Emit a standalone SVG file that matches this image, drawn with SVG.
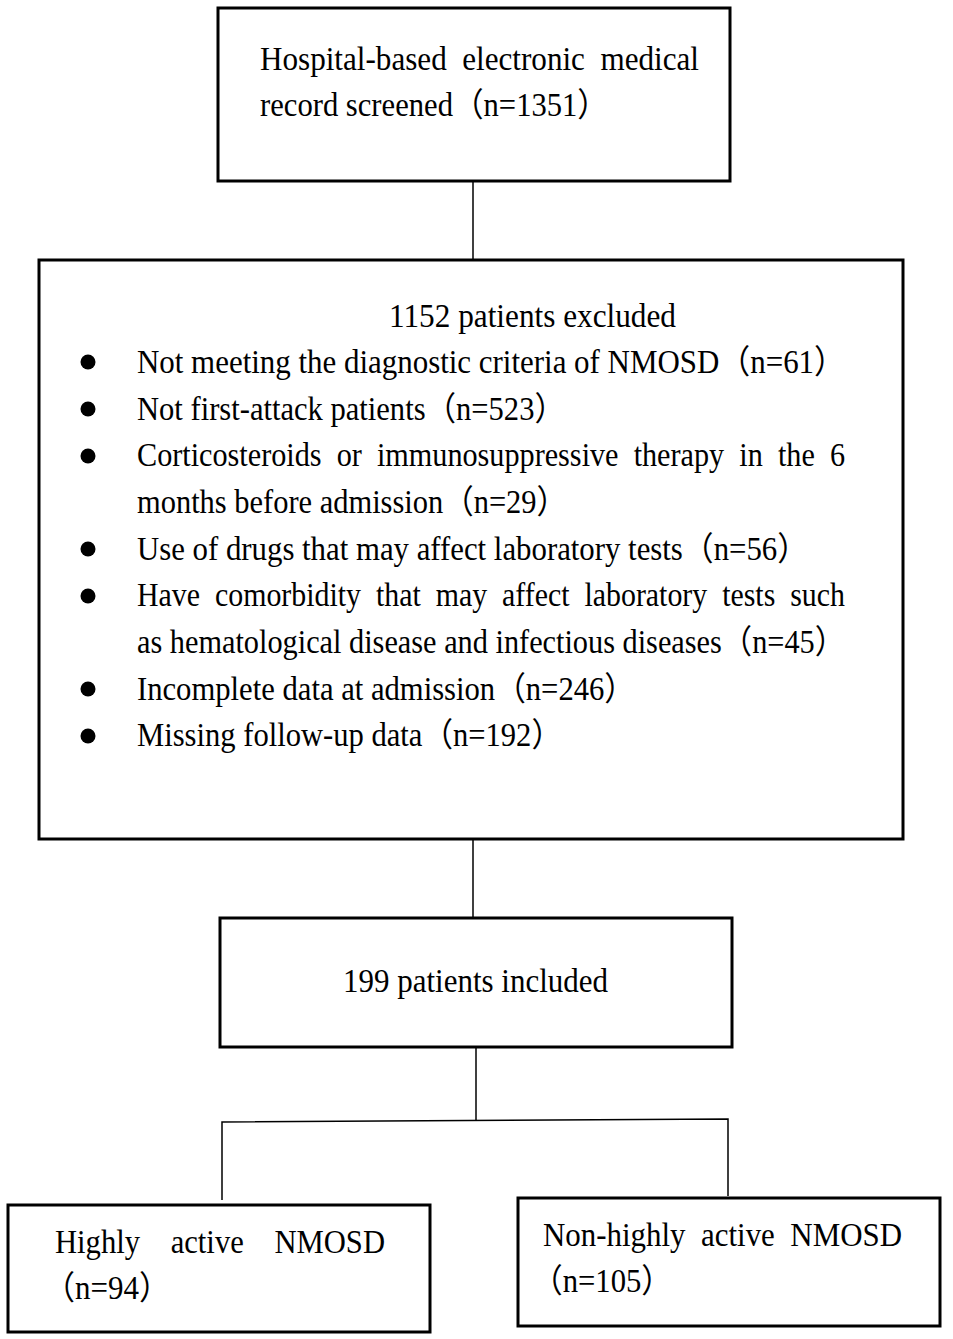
<svg xmlns="http://www.w3.org/2000/svg" width="953" height="1339" viewBox="0 0 953 1339">
<style>
.box{fill:#fff;stroke:#000;stroke-width:3}
.t{font-family:"Liberation Serif","Noto Sans CJK SC",serif;font-size:33px;fill:#000}
.con{stroke:#000;stroke-width:1.5;fill:none}
</style>
<rect width="953" height="1339" fill="#fff"/>
<g id="connectors">
<line class="con" x1="473" y1="181" x2="473" y2="259"/>
<line class="con" x1="473" y1="839" x2="473" y2="917"/>
<line class="con" x1="476" y1="1047" x2="476" y2="1121"/>
<polyline class="con" points="222,1200 222,1122 728,1119 728,1196"/>
</g>
<g id="screened">
<rect class="box" x="218" y="8" width="512" height="173"/>
<text class="t" xml:space="preserve" x="260" y="70" textLength="439" lengthAdjust="spacingAndGlyphs">Hospital-based  electronic  medical</text>
<text class="t" x="260" y="116" textLength="348" lengthAdjust="spacingAndGlyphs">record screened（n=1351）</text>
</g>
<g id="excluded">
<rect class="box" x="39" y="260" width="864" height="579"/>
<text class="t" x="389" y="327" textLength="287" lengthAdjust="spacingAndGlyphs">1152 patients excluded</text>
<circle cx="88" cy="362" r="7.5"/>
<circle cx="88" cy="409" r="7.5"/>
<circle cx="88" cy="456" r="7.5"/>
<circle cx="88" cy="549" r="7.5"/>
<circle cx="88" cy="596" r="7.5"/>
<circle cx="88" cy="689" r="7.5"/>
<circle cx="88" cy="736" r="7.5"/>
<text class="t" x="137" y="373" textLength="708" lengthAdjust="spacingAndGlyphs">Not meeting the diagnostic criteria of NMOSD（n=61）</text>
<text class="t" x="137" y="420" textLength="428" lengthAdjust="spacingAndGlyphs">Not first-attack patients（n=523）</text>
<text class="t" xml:space="preserve" x="137" y="466" textLength="708" lengthAdjust="spacingAndGlyphs">Corticosteroids  or  immunosuppressive  therapy  in  the  6</text>
<text class="t" x="137" y="513" textLength="430" lengthAdjust="spacingAndGlyphs">months before admission（n=29）</text>
<text class="t" x="137" y="560" textLength="671" lengthAdjust="spacingAndGlyphs">Use of drugs that may affect laboratory tests（n=56）</text>
<text class="t" xml:space="preserve" x="137" y="606" textLength="708" lengthAdjust="spacingAndGlyphs">Have  comorbidity  that  may  affect  laboratory  tests  such</text>
<text class="t" x="137" y="653" textLength="708" lengthAdjust="spacingAndGlyphs">as hematological disease and infectious diseases（n=45）</text>
<text class="t" x="137" y="700" textLength="498" lengthAdjust="spacingAndGlyphs">Incomplete data at admission（n=246）</text>
<text class="t" x="137" y="746" textLength="425" lengthAdjust="spacingAndGlyphs">Missing follow-up data（n=192）</text>
</g>
<g id="included">
<rect class="box" x="220" y="918" width="512" height="129"/>
<text class="t" x="343" y="992" textLength="265" lengthAdjust="spacingAndGlyphs">199 patients included</text>
</g>
<g id="highly">
<rect class="box" x="8" y="1205" width="422" height="127"/>
<text class="t" xml:space="preserve" x="55" y="1253" textLength="330" lengthAdjust="spacingAndGlyphs">Highly    active    NMOSD</text>
<text class="t" x="44" y="1299" textLength="126" lengthAdjust="spacingAndGlyphs">（n=94）</text>
</g>
<g id="nonhighly">
<rect class="box" x="518" y="1198" width="422" height="128"/>
<text class="t" xml:space="preserve" x="543" y="1246" textLength="359" lengthAdjust="spacingAndGlyphs">Non-highly  active  NMOSD</text>
<text class="t" x="532" y="1292" textLength="140" lengthAdjust="spacingAndGlyphs">（n=105）</text>
</g>
</svg>
